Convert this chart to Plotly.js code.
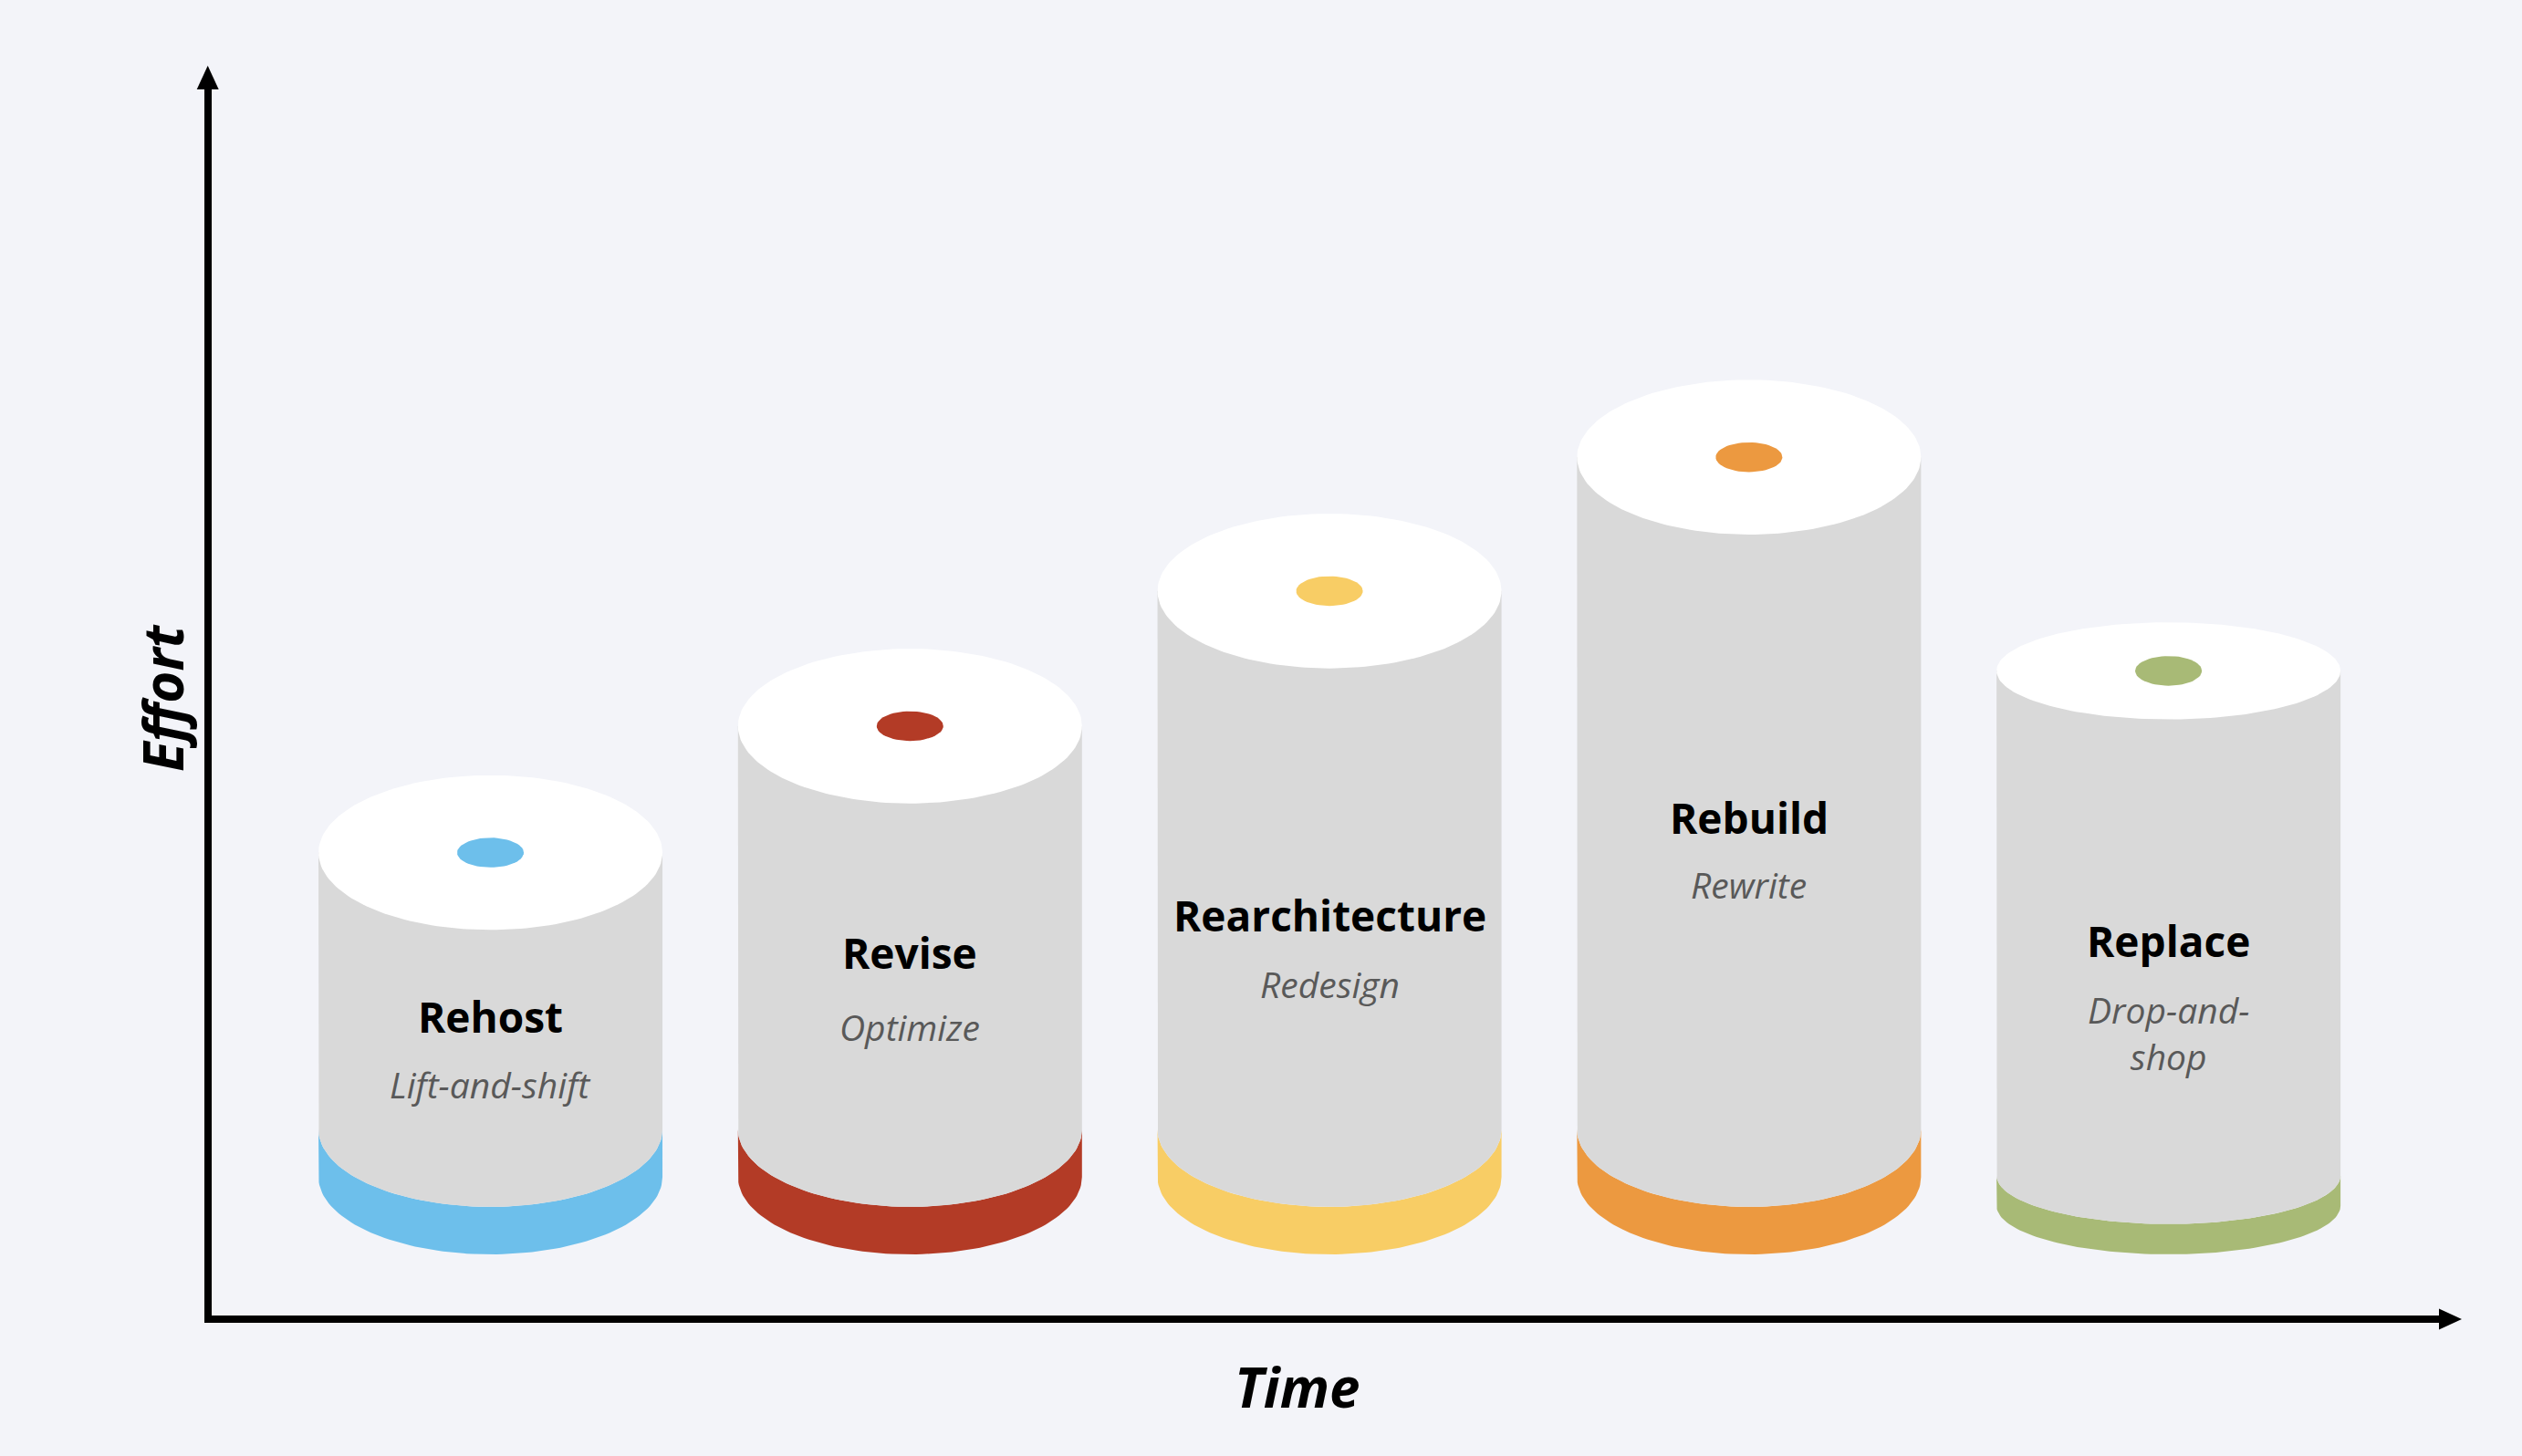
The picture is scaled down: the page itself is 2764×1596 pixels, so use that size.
<!DOCTYPE html>
<html><head><meta charset="utf-8">
<script src="https://cdn.plot.ly/plotly-3.0.1.min.js"></script>
<style>html,body{margin:0;padding:0;background:#F3F4F9;}</style>
</head><body><div id="chart" style="width:2764px;height:1596px;"></div>
<script>
// ---- data ----
const strategies = ['Rehost', 'Revise', 'Rearchitecture', 'Rebuild', 'Replace'];
const descriptions = ['Lift-and-shift', 'Optimize', 'Redesign', 'Rewrite', 'Drop-and-<br>shop'];
const effort = [37.7, 48.0, 59.0, 69.9, 52.5];   // height of each cylinder top (Effort axis)
const accentColors = ['#6DBFEB', '#B33B26', '#F8CD65', '#EC9940', '#A8BA76'];
const xTitle = 'Time';
const yTitle = 'Effort';

// ---- styling (geometry of the drawing, not data) ----
const tilt = [6.3, 6.3, 6.3, 6.3, 3.95];      // ellipse half-height in y units
const bandH = [3.87, 3.87, 3.87, 3.87, 2.47];  // coloured base band thickness
const titleY = [24.4, 29.6, 32.6, 40.6, 30.5];
const subY = [18.8, 23.55, 27.0, 35.1, 23.0];
const baseY = 4.98;      // lowest point of every cylinder
const RX = 0.41;         // cylinder half-width in x units
const HOLE_RX = 0.0794, HOLE_RY = 1.21;
const BG = '#F3F4F9', BODY = '#D9D9D9';

function arc(cx, cy, rx, ry, a0, a1, n) {
  const xs = [], ys = [];
  for (let k = 0; k <= n; k++) {
    const a = a0 + (a1 - a0) * k / n;
    xs.push(cx + rx * Math.cos(a));
    ys.push(cy + ry * Math.sin(a));
  }
  return [xs, ys];
}
function poly(xs, ys, color, name) {
  return {type: 'scatter', mode: 'lines', x: xs, y: ys, fill: 'toself', fillcolor: color,
    line: {width: 0, color: 'rgba(0,0,0,0)'}, hoverinfo: 'skip', showlegend: false, name: name};
}

const traces = [];
strategies.forEach((s, i) => {
  const cx = i, ry = tilt[i];
  const bc = baseY + ry;          // centre of lowest ellipse
  const gc = bc + bandH[i];       // centre of ellipse where grey body ends
  const top = effort[i];
  // coloured band
  let [a1x, a1y] = arc(cx, bc, RX, ry, Math.PI, 2 * Math.PI, 90);
  let [a2x, a2y] = arc(cx, gc, RX, ry, 2 * Math.PI, Math.PI, 90);
  traces.push(poly([cx - RX].concat(a1x, a2x), [gc].concat(a1y, a2y), accentColors[i], s + ' base'));
  // grey body
  let [b1x, b1y] = arc(cx, gc, RX, ry, Math.PI, 2 * Math.PI, 90);
  traces.push(poly([cx - RX, ...b1x, cx + RX, cx - RX], [top, ...b1y, top, top], BODY, s + ' body'));
  // white top
  let [tx, ty] = arc(cx, top, RX, ry, 0, 2 * Math.PI, 180);
  traces.push(poly(tx, ty, '#FFFFFF', s + ' top'));
  // hole
  let [hx, hy] = arc(cx, top, HOLE_RX, HOLE_RY, 0, 2 * Math.PI, 60);
  traces.push(poly(hx, hy, accentColors[i], s + ' hole'));
});

const W = 2764, H = 1596, M = {l: 232, r: 89, t: 96, b: 154};
const PW = W - M.l - M.r, PH = H - M.t - M.b;
const px = v => (v - M.l) / PW, py = v => (H - M.b - v) / PH;

const FONT = 'Open Sans, Noto Sans, sans-serif';
const annotations = [];
strategies.forEach((s, i) => {
  annotations.push({x: i, y: titleY[i], xref: 'x', yref: 'y', text: s, showarrow: false,
    font: {family: FONT, size: 46, color: '#000000', weight: 'bold'}, xanchor: 'center', yanchor: 'middle'});
  annotations.push({x: i, y: subY[i], xref: 'x', yref: 'y', text: descriptions[i], showarrow: false,
    font: {family: FONT, size: 39, color: '#595959', style: 'italic'}, xanchor: 'center', yanchor: 'middle'});
});
annotations.push({x: px(1421), y: py(1520), xref: 'paper', yref: 'paper', text: xTitle, showarrow: false,
  font: {family: FONT, size: 60, color: '#000000', weight: 'bold', style: 'italic'}, xanchor: 'center', yanchor: 'middle'});
annotations.push({x: px(178), y: py(765), xref: 'paper', yref: 'paper', text: yTitle, showarrow: false, textangle: -90,
  font: {family: FONT, size: 60, color: '#000000', weight: 'bold', style: 'italic'}, xanchor: 'center', yanchor: 'middle'});

const xArrow = `M ${px(2673)},${py(1434.5)} L ${px(2698)},${py(1446)} L ${px(2673)},${py(1457.5)} Z`;
const yArrow = `M ${px(215.7)},${py(98)} L ${px(227.7)},${py(72)} L ${px(239.7)},${py(98)} Z`;

const axisCommon = {showline: true, linewidth: 8, linecolor: '#000000', showgrid: false, zeroline: false,
  showticklabels: false, ticks: '', fixedrange: true};
const layout = {
  width: W, height: H, margin: M, paper_bgcolor: BG, plot_bgcolor: BG, showlegend: false,
  xaxis: Object.assign({range: [-0.6645, 4.649]}, axisCommon),
  yaxis: Object.assign({range: [0, 100]}, axisCommon),
  annotations: annotations,
  shapes: [
    {type: 'path', xref: 'paper', yref: 'paper', path: xArrow, fillcolor: '#000000', line: {width: 0}},
    {type: 'path', xref: 'paper', yref: 'paper', path: yArrow, fillcolor: '#000000', line: {width: 0}}
  ]
};
Plotly.newPlot('chart', traces, layout, {displayModeBar: false, staticPlot: true});
</script></body></html>
